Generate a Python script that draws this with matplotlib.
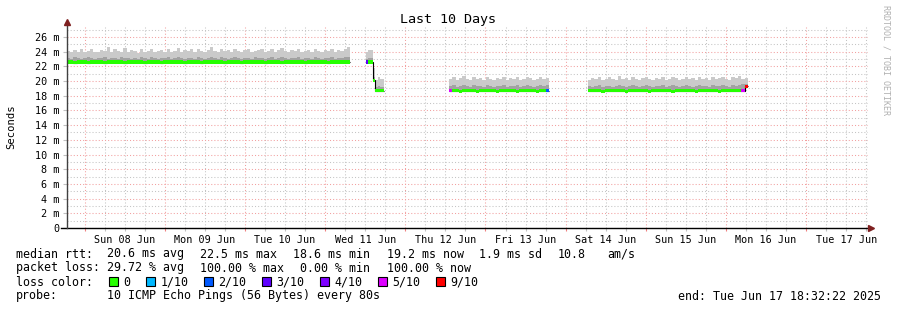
import datetime as dt

import matplotlib
matplotlib.use("Agg")
import matplotlib.pyplot as plt
import matplotlib.dates as mdates
import numpy as np
from matplotlib.patches import Rectangle
from matplotlib.ticker import MultipleLocator, FuncFormatter, NullFormatter

# ---- data (ms, one bin per hour unless noted) ----
start = dt.datetime(2025, 6, 7, 18, 32, 22)
end = dt.datetime(2025, 6, 17, 18, 32, 22)

seg1_start = 0.0
seg1_top = [24.1, 23.9, 24.2, 24.0, 24.3, 23.9, 24.1, 24.4, 24.0, 23.9,
            24.2, 24.1, 24.6, 24.0, 24.3, 24.1, 23.9, 24.5, 24.0, 24.2,
            24.1, 23.8, 24.3, 24.0, 24.1, 24.4, 23.9, 24.1, 24.2, 24.0,
            24.3, 23.9, 24.1, 24.5, 24.0, 24.2, 24.1, 24.3, 23.9, 24.4,
            24.1, 24.0, 24.2, 24.6, 24.1, 24.0, 24.3, 24.1, 24.2, 23.9,
            24.4, 24.1, 24.0, 24.2, 24.3, 23.9, 24.1, 24.2, 24.4, 24.0,
            24.1, 24.3, 24.0, 24.2, 24.5, 24.1, 23.9, 24.2, 24.1, 24.3,
            24.0, 24.1, 24.2, 24.0, 24.4, 24.1, 23.9, 24.2, 24.1, 24.3,
            24.0, 24.2, 24.1, 24.4, 24.6]
seg1_dark = [23.1, 23.0, 23.2, 23.1, 23.0, 23.1, 23.2, 23.1, 23.0, 23.1,
             23.1, 23.2, 23.0, 23.1, 23.1, 23.0, 23.2, 23.1, 23.1, 23.0,
             23.1, 23.0, 23.2, 23.1, 23.0, 23.2, 23.1, 23.0, 23.1, 23.1,
             23.2, 23.0, 23.1, 23.2, 23.1, 23.0, 23.1, 23.1, 23.0, 23.2,
             23.1, 23.0, 23.1, 23.2, 23.1, 23.0, 23.2, 23.1, 23.0, 23.1,
             23.2, 23.1, 23.0, 23.1, 23.1, 23.0, 23.2, 23.1, 23.1, 23.0,
             23.1, 23.2, 23.0, 23.1, 23.2, 23.1, 23.0, 23.1, 23.1, 23.2,
             23.0, 23.1, 23.1, 23.0, 23.2, 23.1, 23.0, 23.1, 23.1, 23.2,
             23.0, 23.1, 23.1, 23.2, 23.3]
seg1_med = [22.6, 22.6, 22.5, 22.6, 22.6, 22.6, 22.5, 22.6, 22.6, 22.6,
            22.6, 22.5, 22.6, 22.6, 22.6, 22.6, 22.6, 22.5, 22.6, 22.6,
            22.6, 22.6, 22.6, 22.5, 22.6, 22.6, 22.6, 22.6, 22.5, 22.6,
            22.6, 22.6, 22.6, 22.6, 22.6, 22.5, 22.6, 22.6, 22.6, 22.6,
            22.5, 22.6, 22.6, 22.6, 22.6, 22.6, 22.6, 22.5, 22.6, 22.6,
            22.6, 22.6, 22.5, 22.6, 22.6, 22.6, 22.6, 22.6, 22.6, 22.5,
            22.6, 22.6, 22.6, 22.6, 22.5, 22.6, 22.6, 22.6, 22.6, 22.6,
            22.6, 22.5, 22.6, 22.6, 22.6, 22.6, 22.6, 22.6, 22.5, 22.6,
            22.6, 22.6, 22.6, 22.6, 22.6]
seg1_loss = [0] * 85

# short segment around the drop (irregular bins, hour edges given)
seg2_edges = [89.6, 90.2, 91.7, 92.5, 93.2, 94.0, 95.0]
seg2_top = [24.0, 24.2, 21.8, 20.2, 20.5, 20.3]
seg2_dark = [23.0, 23.1, 20.6, 19.2, 19.3, 19.2]
seg2_med = [22.6, 22.6, 20.1, 18.7, 18.7, 18.7]
seg2_loss = [3, 0, 0, 0, 0, 0]

seg3_start = 114.5
seg3_top = [20.3, 20.6, 20.2, 20.4, 20.7, 20.3, 20.2, 20.6, 20.3, 20.4,
            20.2, 20.5, 20.3, 20.2, 20.4, 20.3, 20.6, 20.2, 20.4, 20.3,
            20.5, 20.2, 20.3, 20.6, 20.4, 20.2, 20.3, 20.5, 20.3, 20.4]
seg3_dark = [19.3, 19.4, 19.2, 19.3, 19.5, 19.3, 19.2, 19.4, 19.3, 19.3,
             19.2, 19.4, 19.3, 19.2, 19.3, 19.3, 19.4, 19.2, 19.3, 19.3,
             19.4, 19.2, 19.3, 19.4, 19.3, 19.2, 19.3, 19.4, 19.3, 19.5]
seg3_med = [18.7, 18.7, 18.7, 18.6, 18.7, 18.7, 18.7, 18.7, 18.6, 18.7,
            18.7, 18.7, 18.7, 18.7, 18.6, 18.7, 18.7, 18.7, 18.7, 18.7,
            18.6, 18.7, 18.7, 18.7, 18.7, 18.7, 18.6, 18.7, 18.7, 18.7]
seg3_loss = [5, 0, 0, 0, 0, 0, 0, 0, 0, 0,
             0, 0, 0, 0, 0, 0, 0, 0, 0, 0,
             0, 0, 0, 0, 0, 0, 0, 0, 0, 2]

seg4_start = 156.1
seg4_top = [20.2, 20.4, 20.3, 20.6, 20.2, 20.3, 20.5, 20.3, 20.2, 20.7,
            20.3, 20.4, 20.2, 20.5, 20.3, 20.2, 20.4, 20.6, 20.3, 20.2,
            20.4, 20.3, 20.5, 20.2, 20.3, 20.6, 20.4, 20.2, 20.3, 20.5,
            20.3, 20.4, 20.2, 20.6, 20.3, 20.4, 20.2, 20.5, 20.3, 20.4,
            20.6, 20.3, 20.2, 20.5, 20.4, 20.7, 20.3, 20.4]
seg4_dark = [19.3, 19.2, 19.3, 19.4, 19.2, 19.3, 19.3, 19.2, 19.3, 19.5,
             19.3, 19.2, 19.3, 19.4, 19.3, 19.2, 19.3, 19.4, 19.3, 19.2,
             19.3, 19.3, 19.4, 19.2, 19.3, 19.4, 19.3, 19.2, 19.3, 19.4,
             19.3, 19.2, 19.3, 19.4, 19.3, 19.3, 19.2, 19.4, 19.3, 19.3,
             19.4, 19.3, 19.2, 19.4, 19.3, 19.5, 19.6, 19.6]
seg4_med = [18.7, 18.7, 18.7, 18.7, 18.6, 18.7, 18.7, 18.7, 18.7, 18.7,
            18.7, 18.6, 18.7, 18.7, 18.7, 18.7, 18.7, 18.7, 18.6, 18.7,
            18.7, 18.7, 18.7, 18.7, 18.7, 18.6, 18.7, 18.7, 18.7, 18.7,
            18.7, 18.7, 18.6, 18.7, 18.7, 18.7, 18.7, 18.7, 18.7, 18.6,
            18.7, 18.7, 18.7, 18.7, 18.7, 18.7, 18.7, 19.3]
seg4_loss = [0] * 46 + [5, 9]

loss_colors = {0: "#26ff00", 1: "#00b8ff", 2: "#0059ff", 3: "#5e00ff",
               4: "#7e00ff", 5: "#dd00ff", 9: "#ff0000"}
legend_levels = [0, 1, 2, 3, 4, 5, 9]
legend_names = ["0", "1/10", "2/10", "3/10", "4/10", "5/10", "9/10"]

W, H = 897, 310
MONO = "DejaVu Sans Mono"
t0 = mdates.date2num(start)
BAND = 0.22  # half thickness of the median band, ms


def to_x(hours):
    return t0 + np.asarray(hours, dtype=float) / 24.0


def draw_segment(ax, edges, top, dark, med, loss):
    xe = to_x(edges)
    med = np.asarray(med, dtype=float)
    ax.stairs(top, xe, baseline=med, fill=True, color="#cacaca", lw=0, zorder=2)
    ax.stairs(dark, xe, baseline=med, fill=True, color="#a2a2a2", lw=0, zorder=3)
    ax.stairs(med, xe, baseline=None, color="black", lw=0.8, zorder=4)
    ax.stairs(med + BAND, xe, baseline=med - BAND, fill=True,
              color=loss_colors[0], lw=0, zorder=5, antialiased=False)
    for i, l in enumerate(loss):
        if l:
            ax.bar(xe[i], 2 * BAND, width=xe[i + 1] - xe[i], bottom=med[i] - BAND,
                   align="edge", color=loss_colors[l], lw=0, zorder=6)


fig = plt.figure(figsize=(W / 100, H / 100), dpi=100)
fig.patch.set_facecolor("white")
ax = fig.add_axes([66.5 / W, 82 / H, 801.5 / W, 201 / H])

for s, top, dark, med, loss in [
    (seg1_start, seg1_top, seg1_dark, seg1_med, seg1_loss),
    (seg3_start, seg3_top, seg3_dark, seg3_med, seg3_loss),
    (seg4_start, seg4_top, seg4_dark, seg4_med, seg4_loss),
]:
    edges = s + np.arange(len(top) + 1)
    draw_segment(ax, edges, top, dark, med, loss)
draw_segment(ax, seg2_edges, seg2_top, seg2_dark, seg2_med, seg2_loss)

ax.set_xlim(mdates.date2num(start), mdates.date2num(end))
ax.set_ylim(0, 27.35)

# grid
ax.yaxis.set_major_locator(MultipleLocator(2))
ax.yaxis.set_minor_locator(MultipleLocator(1))
ax.yaxis.set_major_formatter(FuncFormatter(lambda v, p: "0" if v == 0 else f"{int(v)} m"))
ax.xaxis.set_major_locator(mdates.DayLocator())
ax.xaxis.set_minor_locator(mdates.HourLocator(byhour=[6, 12, 18]))
ax.xaxis.set_major_formatter(NullFormatter())


def day_label(v, pos):
    d = mdates.num2date(v)
    return d.strftime("%a %d %b") if d.hour == 12 else ""


ax.xaxis.set_minor_formatter(FuncFormatter(day_label))
ax.set_axisbelow(True)
ax.grid(which="major", color="#f2a0a0", ls=(0, (1, 2)), lw=0.75)
ax.grid(which="minor", color="#c4c4c4", ls=(0, (1, 2)), lw=0.75)

ax.tick_params(axis="y", which="major", length=3, width=0.8, color="#c0c0c0",
               labelsize=7.3, pad=2)
ax.tick_params(axis="y", which="minor", length=0)
ax.tick_params(axis="x", which="major", length=2, width=0.8, color="#f08080")
ax.tick_params(axis="x", which="minor", length=2, width=0.8, color="#c0c0c0",
               labelsize=7.3, pad=3)
for lab in ax.get_xticklabels(minor=True) + ax.get_yticklabels():
    lab.set_family(MONO)

for sp in ["top", "right", "bottom", "left"]:
    ax.spines[sp].set_visible(False)
# axis lines with arrows
ax.plot([-5 / 801, 1 + 2 / 801], [0, 0], color="black", lw=1.0,
        transform=ax.transAxes, clip_on=False, zorder=6)
ax.plot([0, 0], [0, 1 + 4 / 201], color="#404040", lw=1.0,
        transform=ax.transAxes, clip_on=False, zorder=6)
ax.plot(1 + 3 / 801, 0, marker=">", ms=4, color="#7f2020",
        transform=ax.transAxes, clip_on=False, zorder=7)
ax.plot(0, 1 + 5 / 201, marker="^", ms=4, color="#7f2020",
        transform=ax.transAxes, clip_on=False, zorder=7)


def ftext(x, y, s, **kw):
    kw.setdefault("family", MONO)
    kw.setdefault("size", 8.4)
    kw.setdefault("va", "center")
    fig.text(x / W, 1 - y / H, s, **kw)


ftext(448, 19, "Last 10 Days", size=9.6, ha="center")
ftext(11, 127, "Seconds", size=7.6, ha="center", rotation=90)
ftext(886, 5, "RRDTOOL / TOBI OETIKER", size=6.0, ha="center", va="top",
      rotation=270, color="#b0b0b0")

# legend rows
ftext(16, 254, "median rtt:")
ftext(107, 254, "20.6 ms avg")
ftext(200, 254, "22.5 ms max")
ftext(293, 254, "18.6 ms min")
ftext(387, 254, "19.2 ms now")
ftext(479, 254, "1.9 ms sd")
ftext(558, 254, "10.8")
ftext(607, 254, "am/s")

ftext(16, 268, "packet loss:")
ftext(107, 268, "29.72 % avg")
ftext(200, 268, "100.00 % max")
ftext(300, 268, "0.00 % min")
ftext(387, 268, "100.00 % now")

ftext(16, 282, "loss color:")
sq_x = [108.5, 146, 204, 261.5, 319.5, 377.5, 435.5]
for lvl, name, sx in zip(legend_levels, legend_names, sq_x):
    fig.patches.append(Rectangle((sx / W, 1 - 286 / H), 9 / W, 9 / H,
                                 transform=fig.transFigure, facecolor=loss_colors[lvl],
                                 edgecolor="black", lw=0.8))
    ftext(sx + 14.5, 282, name)

ftext(16, 296, "probe:")
ftext(107, 296, "10 ICMP Echo Pings (56 Bytes) every 80s")
ftext(881, 296, "end: Tue Jun 17 18:32:22 2025", ha="right")

fig.savefig("out.png", dpi=100, facecolor="white")
